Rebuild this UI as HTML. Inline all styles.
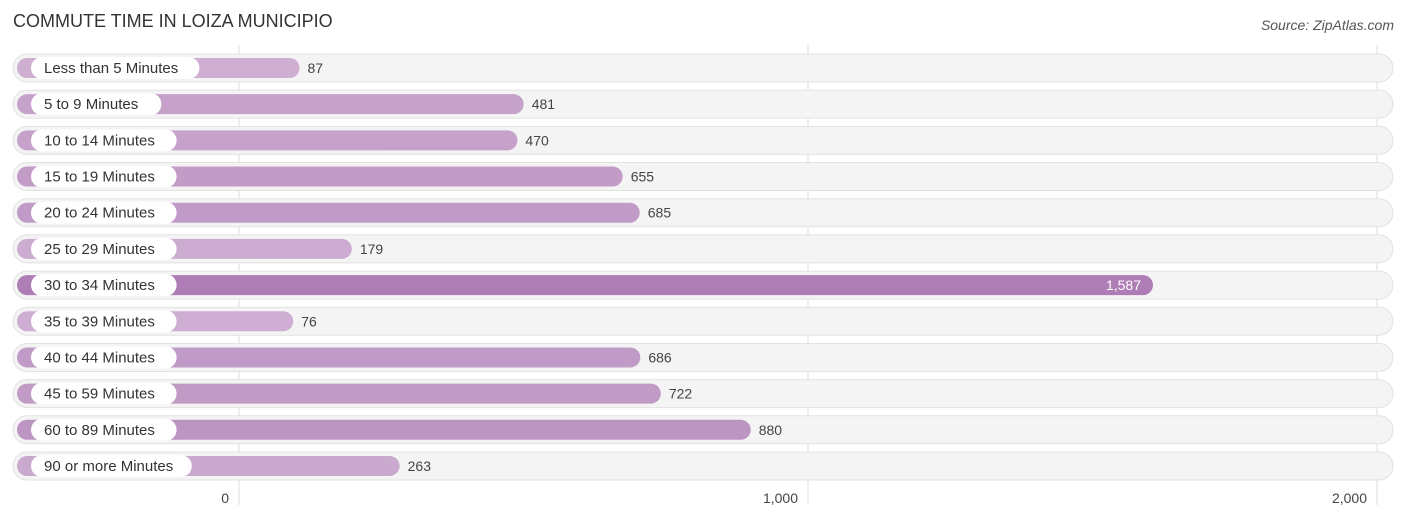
<!DOCTYPE html>
<html><head><meta charset="utf-8"><style>
body{margin:0;background:#fff;width:1406px;height:522px;overflow:hidden;font-family:"Liberation Sans",sans-serif;}
</style></head><body>
<svg id="chart" width="1406" height="522" xmlns="http://www.w3.org/2000/svg">
<text x="13" y="27" font-size="18" fill="#333" font-family="Liberation Sans, sans-serif">COMMUTE TIME IN LOIZA MUNICIPIO</text>
<text x="1394" y="30" font-size="14" fill="#555" font-style="italic" text-anchor="end" font-family="Liberation Sans, sans-serif">Source: ZipAtlas.com</text>
<g id="grid"></g><g id="rows"></g><g id="ticks"></g>
</svg>
<script>
const categories=["Less than 5 Minutes","5 to 9 Minutes","10 to 14 Minutes","15 to 19 Minutes","20 to 24 Minutes","25 to 29 Minutes","30 to 34 Minutes","35 to 39 Minutes","40 to 44 Minutes","45 to 59 Minutes","60 to 89 Minutes","90 or more Minutes"];
const values=[87,481,470,655,685,179,1587,76,686,722,880,263];
const tickValues=[0,1000,2000];
const tickLabels=["0","1,000","2,000"];
const NS="http://www.w3.org/2000/svg";
const x=v=>239+v*0.569;
const y=i=>68+i*36.18;
function mk(tag,attrs,parent){const e=document.createElementNS(NS,tag);for(const k in attrs)e.setAttribute(k,attrs[k]);parent.appendChild(e);return e;}
const grid=document.getElementById('grid'),rows=document.getElementById('rows'),ticks=document.getElementById('ticks');
const maxV=Math.max(...values);
tickValues.forEach((t,j)=>{
 const l=mk('line',{x1:x(t),x2:x(t),y1:45,y2:505,stroke:'#ddd','stroke-width':1},grid);
 
 
 const tx=mk('text',{x:x(t)-10,y:503,'font-size':14,fill:'#444','text-anchor':'end','font-family':'Liberation Sans, sans-serif'},ticks);
 tx.textContent=tickLabels[j];
 
 
});
categories.forEach((c,i)=>{
 const cy=y(i);
 const g=mk('g',{},rows);
 
 
 const bg=mk('rect',{x:13,y:cy-14,width:1380,height:28,rx:14,fill:'#f4f4f4',stroke:'#e2e2e2','stroke-width':1},g);
 
 
 const t=values[i]/maxV;
 const r=Math.round(208-(208-174)*t),gg=Math.round(178-(178-125)*t),b=Math.round(212-(212-181)*t);
 const end=x(values[i])+11;
 const bar=mk('rect',{x:17,y:cy-10,width:end-17,height:20,rx:10,fill:`rgb(${r},${gg},${b})`},g);
 
 
 const w=c.length*7.6+24;
 const pill=mk('rect',{x:31,y:cy-11,width:w,height:22,rx:11,fill:'#fff'},g);
 
 
 const lt=mk('text',{x:44,y:cy+5,'font-size':15,fill:'#333','font-family':'Liberation Sans, sans-serif'},g);
 lt.textContent=c;
 
 
 const inside=t>0.8;
 const vt=mk('text',{x:inside?end-12:end+8,y:cy+5,'font-size':14,fill:inside?'#fff':'#444','text-anchor':inside?'end':'start','font-family':'Liberation Sans, sans-serif'},g);
 vt.textContent=values[i].toLocaleString('en-US');
 
 
});
</script>
</body></html>
